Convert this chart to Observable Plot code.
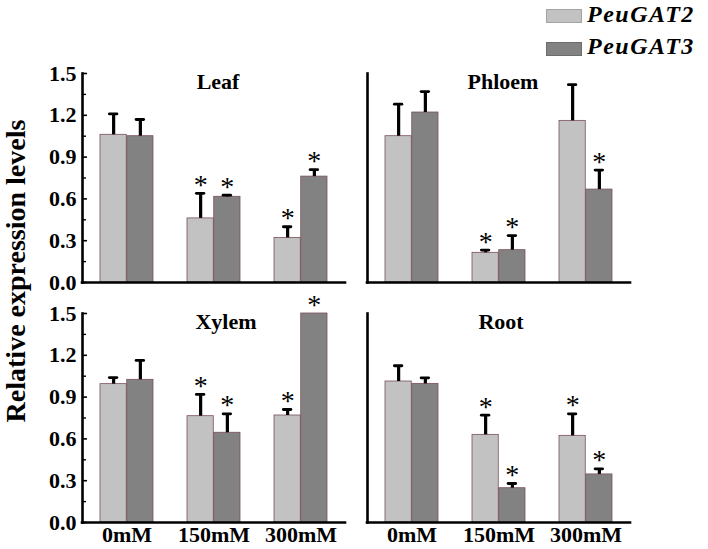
<!DOCTYPE html>
<html>
<head>
<meta charset="utf-8">
<script src="https://cdn.jsdelivr.net/npm/d3@7"></script>
<script src="https://cdn.jsdelivr.net/npm/@observablehq/plot@0.6"></script>
<style>
  html, body { margin: 0; padding: 0; background: #ffffff; }
  #chart { position: relative; width: 708px; height: 549px; overflow: hidden;
           font-family: "Liberation Serif", "Times New Roman", serif; color: #000; }
  .panel { position: absolute; }
  .panel svg { background: transparent; }
  #ylabel { position: absolute; left: -194.5px; top: 256.5px; width: 420px; height: 28px;
            line-height: 28px; font-size: 28px; font-weight: bold; text-align: center;
            white-space: nowrap; transform: rotate(-90deg); z-index: 5; }
  .swatch { position: absolute; left: 546px; width: 36px; height: 14px; box-sizing: border-box; }
  .legtext { position: absolute; left: 587px; font-size: 24px; line-height: 24px; letter-spacing: 1.5px;
             font-weight: bold; font-style: italic; white-space: nowrap; }
</style>
</head>
<body>
<div id="chart"></div>
<script>
// ---------- data ----------
const doses = ["0mM", "150mM", "300mM"];
const genes = ["PeuGAT2", "PeuGAT3"];
const tissues = ["Leaf", "Phloem", "Xylem", "Root"];

const leafGAT2 = [1.06, 0.46, 0.32];
const leafGAT3 = [1.05, 0.615, 0.76];
const leafGAT2Err = [0.15, 0.18, 0.08];
const leafGAT3Err = [0.12, 0.012, 0.05];
const leafGAT2Sig = [false, true, true];
const leafGAT3Sig = [false, true, true];

const phloemGAT2 = [1.05, 0.213, 1.16];
const phloemGAT3 = [1.22, 0.232, 0.667];
const phloemGAT2Err = [0.23, 0.02, 0.26];
const phloemGAT3Err = [0.15, 0.105, 0.14];
const phloemGAT2Sig = [false, true, false];
const phloemGAT3Sig = [false, true, true];

const xylemGAT2 = [0.993, 0.763, 0.768];
const xylemGAT3 = [1.024, 0.644, 1.5];
const xylemGAT2Err = [0.047, 0.156, 0.043];
const xylemGAT3Err = [0.139, 0.136, 0];
const xylemGAT2Sig = [false, true, true];
const xylemGAT3Sig = [false, true, true];

const rootGAT2 = [1.012, 0.629, 0.622];
const rootGAT3 = [0.995, 0.246, 0.345];
const rootGAT2Err = [0.113, 0.141, 0.158];
const rootGAT3Err = [0.043, 0.034, 0.04];
const rootGAT2Sig = [false, true, true];
const rootGAT3Sig = [false, true, true];

const yTicks = [0, 0.3, 0.6, 0.9, 1.2, 1.5];
const yMinorTicks = [0.15, 0.45, 0.75, 1.05, 1.35];
const yAxisLabel = "Relative expression levels";

// ---------- build tables ----------
const series = {
  Leaf:   {means: [leafGAT2, leafGAT3],     errs: [leafGAT2Err, leafGAT3Err],     sig: [leafGAT2Sig, leafGAT3Sig]},
  Phloem: {means: [phloemGAT2, phloemGAT3], errs: [phloemGAT2Err, phloemGAT3Err], sig: [phloemGAT2Sig, phloemGAT3Sig]},
  Xylem:  {means: [xylemGAT2, xylemGAT3],   errs: [xylemGAT2Err, xylemGAT3Err],   sig: [xylemGAT2Sig, xylemGAT3Sig]},
  Root:   {means: [rootGAT2, rootGAT3],     errs: [rootGAT2Err, rootGAT3Err],     sig: [rootGAT2Sig, rootGAT3Sig]}
};

// ---------- styling / layout ----------
const fills = ["#c2c2c2", "#828282"];
const barStroke = "#7a5058";
const layout = {
  Leaf:   {left: 0,   top: 0,   width: 356, height: 290, marginTop: 73, marginRight: 11, marginBottom: 8,  marginLeft: 82, yLabels: true,  xLabels: false, titleDx: 4},
  Phloem: {left: 356, top: 0,   width: 352, height: 290, marginTop: 73, marginRight: 78, marginBottom: 8,  marginLeft: 11, yLabels: false, xLabels: false, titleDx: 4},
  Xylem:  {left: 0,   top: 290, width: 356, height: 259, marginTop: 23, marginRight: 11, marginBottom: 27, marginLeft: 82, yLabels: true,  xLabels: true,  titleDx: 12},
  Root:   {left: 356, top: 290, width: 352, height: 259, marginTop: 23, marginRight: 78, marginBottom: 27, marginLeft: 11, yLabels: false, xLabels: true,  titleDx: 2}
};

const chart = document.getElementById("chart");

function makePanel(name) {
  const s = series[name];
  const L = layout[name];
  const rows = [];
  genes.forEach((g, gi) => doses.forEach((d, di) => rows.push({
    tissue: name, gene: g, gi, dose: d,
    mean: s.means[gi][di], err: s.errs[gi][di], sig: s.sig[gi][di]
  })));
  const plotW = L.width - L.marginLeft - L.marginRight;
  const padInner = 0.39;
  const bw = plotW / 3 * (1 - padInner);   // band holds the two bars
  const off = bw / 4;                      // centre of each bar inside the band
  const capW = 8;
  const marks = [];
  genes.forEach((g, gi) => {
    const data = rows.filter(r => r.gi === gi);
    const dx = gi === 0 ? -off : off;
    marks.push(Plot.barY(data, {
      x: "dose", y: "mean", fill: fills[gi], stroke: barStroke, strokeWidth: 0.8,
      insetLeft: gi === 0 ? 0 : bw / 2, insetRight: gi === 0 ? bw / 2 : 0
    }));
    const ed = data.filter(r => r.err > 0);
    marks.push(Plot.ruleX(ed, {x: "dose", y1: "mean", y2: r => r.mean + r.err, dx, stroke: "#000", strokeWidth: 3.2}));
    marks.push(Plot.tickY(ed, {x: "dose", y: r => r.mean + r.err, dx, stroke: "#000", strokeWidth: 2.8,
      strokeLinecap: "round", insetLeft: (bw - capW) / 2, insetRight: (bw - capW) / 2}));
  });
  marks.push(Plot.ruleY([0], {stroke: "#000", strokeWidth: 2.6, strokeLinecap: "square"}));
  marks.push(Plot.frame({anchor: "left", stroke: "#000", strokeWidth: 2.6, strokeLinecap: "square"}));
  if (L.yLabels) {
    marks.push(Plot.tickY(yTicks, {y: d => d, stroke: "#000", strokeWidth: 1.6, insetRight: plotW - 5}));
    marks.push(Plot.tickY(yMinorTicks, {y: d => d, stroke: "#000", strokeWidth: 1.4, insetRight: plotW - 4}));
    marks.push(Plot.axisY({ticks: yTicks, tickFormat: d3.format(".1f"), tickSize: 0, tickPadding: 6,
      fontSize: 22, fontWeight: "bold"}));
  }
  if (L.xLabels) {
    marks.push(Plot.axisX({tickSize: 0, tickPadding: 4, fontSize: 22, fontWeight: "bold"}));
  }
  genes.forEach((g, gi) => {
    marks.push(Plot.text(rows.filter(r => r.gi === gi && r.sig), {
      x: "dose", y: r => r.mean + r.err, text: () => "*", dx: gi === 0 ? -off : off, dy: -8.5,
      lineAnchor: "middle", fontSize: 28, fontWeight: "normal", fill: "#000"
    }));
  });
  marks.push(Plot.text([name], {frameAnchor: "top", lineAnchor: "top", dx: L.titleDx,
    fontSize: 22, fontWeight: "bold", fill: "#000"}));

  const svg = Plot.plot({
    width: L.width, height: L.height,
    marginTop: L.marginTop, marginRight: L.marginRight, marginBottom: L.marginBottom, marginLeft: L.marginLeft,
    x: Object.assign({domain: doses, paddingInner: padInner, paddingOuter: padInner / 2, label: null},
                     L.xLabels ? {} : {axis: null}),
    y: Object.assign({domain: [0, 1.5], label: null}, L.yLabels ? {} : {axis: null}),
    style: {fontFamily: "'Liberation Serif', 'Times New Roman', serif", fontWeight: "bold",
            background: "transparent", color: "#000", overflow: "visible"},
    marks
  });
  const wrap = document.createElement("div");
  wrap.className = "panel";
  wrap.style.left = L.left + "px";
  wrap.style.top = L.top + "px";
  wrap.appendChild(svg);
  chart.appendChild(wrap);
}

tissues.forEach(makePanel);

// y-axis title
const yl = document.createElement("div");
yl.id = "ylabel";
yl.textContent = yAxisLabel;
chart.appendChild(yl);

// legend
const swTops = [9, 42];
const txtTops = [1.9, 33.9];
genes.forEach((g, gi) => {
  const sw = document.createElement("div");
  sw.className = "swatch";
  sw.style.top = swTops[gi] + "px";
  sw.style.background = fills[gi];
  sw.style.border = "1px solid " + (gi === 0 ? "#a4a4a4" : "#6c6c6c");
  chart.appendChild(sw);
  const t = document.createElement("div");
  t.className = "legtext";
  t.style.top = txtTops[gi] + "px";
  t.textContent = g;
  chart.appendChild(t);
});
</script>
</body>
</html>
